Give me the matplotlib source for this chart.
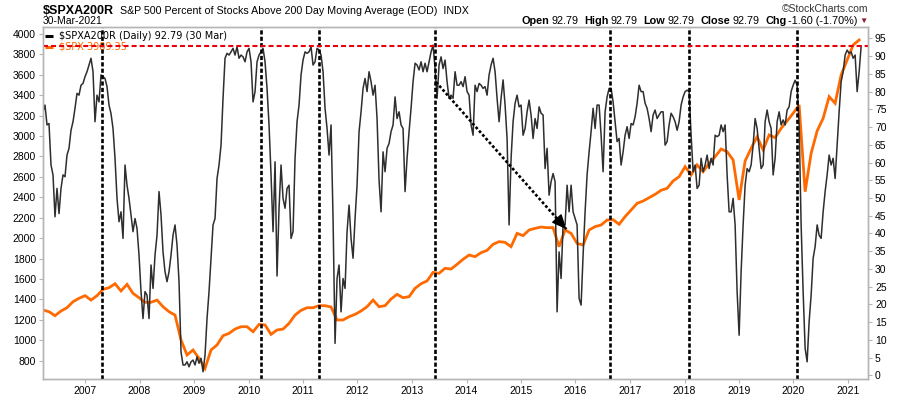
import matplotlib
matplotlib.use('Agg')
import matplotlib.pyplot as plt
import pandas as pd

plt.rcParams['font.family'] = ['Liberation Sans', 'DejaVu Sans']
plt.rcParams['lines.scale_dashes'] = False

# ---------------- data ----------------
start_date = '2006-03-25'
end_date = '2021-03-30'

pct_above_200 = [
    # 2006-03 .. 2009-05
    74.3, 76.2, 70.6, 71.0, 59.3, 56.5, 44.7, 52.7, 45.6, 52.7,
    56.5, 56.0, 62.1, 64.0, 69.1, 71.5, 75.3, 79.5, 79.0, 81.8,
    82.3, 84.2, 85.6, 87.5, 89.4, 85.6, 71.5, 79.0, 77.1, 84.7,
    84.2, 83.7, 81.4, 76.2, 73.8, 69.6, 61.2, 49.9, 43.3, 46.1,
    38.6, 59.3, 53.6, 49.9, 45.2, 40.5, 44.2, 41.4, 33.9, 23.6,
    16.0, 23.6, 22.6, 16.0, 31.1, 24.5, 33.9, 39.5, 51.8, 45.2,
    34.8, 29.2, 26.4, 29.2, 33.9, 39.5, 42.4, 36.7, 26.4, 6.6,
    2.9, 2.9, 3.8, 2.4, 3.8, 4.3, 2.9, 5.2, 3.4, 4.8,
    1.0, 5.7, 16.0, 23.6, 33.0, 42.4,
    # 2009-05 .. 2012-05
    44.2, 55.5, 59.3, 64.9, 78.1, 89.4, 90.8, 90.3, 91.2, 92.2,
    90.3, 92.6, 89.4, 90.3, 89.8, 88.4, 91.2, 92.2, 88.4, 77.1,
    80.0, 88.4, 90.3, 91.2, 92.2, 88.4, 80.9, 70.6, 56.5, 40.5,
    60.2, 28.0, 47.1, 59.3, 49.9, 47.1, 52.7, 53.6, 38.6, 40.5,
    61.2, 71.5, 76.2, 84.7, 88.9, 91.2, 90.8, 91.2, 92.6, 87.5,
    88.4, 92.2, 91.7, 90.3, 85.6, 75.3, 69.6, 62.1, 70.6, 44.2,
    9.0, 27.3, 31.1, 17.9, 27.3, 24.5, 40.5, 48.0, 38.6, 33.0,
    44.2, 53.6, 68.7, 74.3, 80.9, 83.7, 80.0, 85.6, 82.8, 79.0,
    81.8, 72.4,
    # 2012-05 .. 2015-06
    55.0, 46.1, 63.0, 57.4, 64.0, 65.4, 68.7, 70.6, 78.5, 72.4,
    74.3, 70.6, 69.6, 51.8, 61.2, 68.7, 75.3, 82.8, 88.0, 87.5,
    86.1, 88.4, 85.6, 88.0, 85.6, 88.4, 91.2, 93.1, 86.5, 78.1,
    87.5, 89.8, 86.5, 88.9, 82.8, 78.1, 79.0, 78.1, 85.6, 81.8,
    81.8, 82.8, 81.4, 84.2, 80.0, 79.0, 70.6, 67.7, 81.8, 80.0,
    82.3, 81.8, 80.9, 81.4, 79.0, 84.7, 87.5, 89.4, 85.6, 78.1,
    71.5, 78.1, 83.3, 76.2, 66.8, 42.4, 61.2, 71.5, 76.7, 79.0,
    75.7, 76.2, 67.7, 69.6, 74.3, 77.6, 73.4, 66.8, 72.4, 69.6,
    75.7, 73.9, 73.4, 58.3, 64.0,
    # 2015-06 .. 2018-06
    50.8, 54.6, 56.9, 54.6, 17.9, 34.8, 27.3, 42.4, 42.4, 53.6,
    46.1, 53.6, 46.1, 44.2, 42.4, 21.7, 19.8, 33.9, 46.1, 56.5,
    63.0, 68.7, 75.3, 69.6, 76.2, 76.2, 67.7, 57.4, 74.3, 78.5,
    80.9, 80.9, 77.1, 71.5, 65.9, 66.8, 59.3, 63.0, 67.7, 70.1,
    66.8, 71.0, 70.6, 72.9, 76.7, 81.8, 80.0, 80.0, 76.7, 75.3,
    72.4, 68.7, 73.4, 74.8, 72.4, 73.4, 74.3, 74.3, 64.9, 65.9,
    70.6, 73.9, 72.9, 71.5, 69.1, 71.5, 76.2, 78.5, 80.0, 80.4,
    80.0, 67.7, 57.4, 59.3, 52.7, 53.6, 61.2, 57.4, 59.3, 62.1,
    58.3, 61.2, 59.3,
    # 2018-06 .. 2021-03
    67.7, 67.3, 67.7, 70.6, 68.7, 70.6, 56.5, 46.1, 46.1, 49.9,
    42.4, 23.6, 11.3, 29.2, 42.4, 53.6, 58.3, 57.4, 59.3, 64.9,
    72.4, 69.6, 64.0, 58.3, 59.3, 71.5, 74.8, 71.5, 69.6, 56.5,
    61.2, 71.5, 74.3, 70.6, 72.0, 70.6, 74.8, 75.7, 80.0, 81.8,
    83.2, 81.8, 70.6, 42.4, 23.6, 7.6, 3.8, 15.1, 22.6, 33.0,
    36.3, 42.4, 39.5, 38.6, 46.1, 51.8, 56.5, 62.1, 59.3, 61.2,
    55.5, 64.9, 74.3, 82.8, 85.6, 90.3, 91.7, 90.8, 91.2, 89.4,
    90.3, 80.0, 85.6, 92.79,
]

spx_close = [
    1296, 1280, 1241, 1287, 1319, 1378, 1411, 1437, 1394, 1437,
    1499, 1515, 1554, 1483, 1548, 1460, 1417, 1372, 1372, 1394,
    1329, 1280, 1247, 1003, 856, 905, 823, 725, 905,
    954, 1045, 1068, 1110, 1133, 1133, 1084, 1156, 1150, 1058,
    1101, 1110, 1166, 1247, 1293, 1319, 1319, 1339, 1339, 1326,
    1199, 1199, 1231, 1254, 1287, 1329, 1394, 1329,
    1339, 1404, 1450, 1417, 1427, 1509, 1554, 1581, 1665, 1656,
    1705, 1698, 1744, 1793, 1835, 1819, 1858, 1881, 1940, 1966,
    1959, 1917, 2047, 2025, 2080, 2096, 2109, 2103,
    2103, 1917, 2080, 2047, 1949, 1933, 2080, 2113, 2129, 2178,
    2181, 2136, 2211, 2276, 2341, 2364, 2397, 2429, 2469, 2488,
    2560, 2602, 2700, 2619, 2717, 2651, 2733,
    2798, 2873, 2847, 2766, 2374, 2756, 2880, 2994, 2864, 3011,
    2984, 3076, 3148, 3223, 3304, 2455, 2831, 3050, 3174, 3386,
    3321, 3598, 3745, 3892, 3941,
]

cycle_marks = ['2007-04-23', '2010-03-28', '2011-04-16', '2013-06-06',
               '2016-08-18', '2018-01-30', '2020-01-23']
year_labels = [str(y) for y in range(2007, 2022)]
left_ticks = list(range(800, 4001, 200))
right_ticks = list(range(0, 96, 5))
last_value = 92.79
spx_last = '3989.35'
arrow_from = ('2013-06-10', 82.7)
arrow_to = ('2015-11-01', 41.2)

# ---------------- figure ----------------
W, H = 900, 396
fig = plt.figure(figsize=(W / 100, H / 100), dpi=100)
L, R, T, B = 43, 868, 26.7, 379.3
ax = fig.add_axes([L / W, 1 - B / H, (R - L) / W, (B - T) / H])
ax2 = ax.twinx()

dates = pd.date_range(start_date, end_date, periods=len(pct_above_200))
spx_dates = dates[::3]

ax.plot(spx_dates, spx_close, color='#ff6a00', lw=2.0, solid_joinstyle='miter')
ax2.plot(dates, pct_above_200, color='#2e2e2e', lw=1.1)

ax.set_ylim(618, 4071)
ax2.set_ylim(-1.13, 98.3)
ax.set_xlim(pd.Timestamp(start_date), pd.Timestamp('2021-05-15'))

for d in cycle_marks:
    ax2.axvline(pd.Timestamp(d), color='black', lw=1.9, linestyle=(0, (3.0, 1.6)))
ax2.axhline(last_value, color='#e8000b', lw=1.5, linestyle=(0, (3.6, 2.2)))

# dashed trend arrow
a0 = (pd.Timestamp(arrow_from[0]), arrow_from[1])
a1 = (pd.Timestamp(arrow_to[0]), arrow_to[1])
ax2.plot([a0[0], a1[0]], [a0[1], a1[1]], color='black', lw=1.9,
         linestyle=(0, (2.0, 1.6)))
head_start = (a0[0] + (a1[0] - a0[0]) * 0.93, a0[1] + (a1[1] - a0[1]) * 0.93)
ax2.annotate('', xy=a1, xytext=head_start,
             arrowprops=dict(arrowstyle='-|>,head_length=0.9,head_width=0.4',
                             color='black', lw=1.0, shrinkA=0, shrinkB=0))

# axes styling
for a in (ax, ax2):
    for s in a.spines.values():
        s.set_color('#b5b5b5')
        s.set_linewidth(1.0)
ax.set_yticks(left_ticks)
ax.set_yticklabels([str(v) for v in left_ticks])
ax2.set_yticks(right_ticks)
ax2.set_yticklabels([str(v) for v in right_ticks])
ax.tick_params(axis='y', labelsize=7.5, length=3, color='#b5b5b5', pad=2)
ax2.tick_params(axis='y', labelsize=7.5, length=3, color='#b5b5b5', pad=2)
ax.set_xticks([pd.Timestamp(f'{y}-01-01') for y in year_labels])
ax.set_xticklabels(year_labels)
ax.tick_params(axis='x', labelsize=7.5, length=3, color='#b5b5b5', pad=2)

# ---------------- header texts ----------------
def px(x, y):
    return x / W, 1 - y / H

fig.text(*px(43, 10.5), '$SPXA200R', fontsize=9.0, fontweight='bold', va='center', ha='left')
fig.text(*px(120, 10.5), 'S&P 500 Percent of Stocks Above 200 Day Moving Average (EOD)  INDX',
         fontsize=7.7, va='center', ha='left')
fig.text(*px(43, 21.5), '30-Mar-2021', fontsize=7.5, va='center', ha='left')
fig.text(*px(868, 9.5), '\u00a9StockCharts.com', fontsize=7.5, va='center', ha='right', color='#333333')

renderer = fig.canvas.get_renderer()
runs = [('Open', 'bold', 'black', 2), ('92.79', 'normal', 'black', 6),
        ('High', 'bold', 'black', 2), ('92.79', 'normal', 'black', 6),
        ('Low', 'bold', 'black', 2), ('92.79', 'normal', 'black', 6),
        ('Close', 'bold', 'black', 2), ('92.79', 'normal', 'black', 6),
        ('Chg', 'bold', 'black', 2), ('-1.60 (-1.70%)', 'normal', 'black', 2),
        ('\u25bc', 'normal', '#8b1a2f', 0)]
objs = []
total = 0
for s, wgt, col, gap in runs:
    fs = 6 if s == '\u25bc' else 7.8
    t = fig.text(0, 1 - 21.5 / H, s, fontsize=fs, fontweight=wgt, color=col,
                 va='center', ha='left', family=['Liberation Sans', 'DejaVu Sans'])
    w = t.get_window_extent(renderer).width
    objs.append((t, w, gap))
    total += w + gap
x = 868 - total
for t, w, gap in objs:
    t.set_x(x / W)
    x += w + gap

# ---------------- legend ----------------
ax2.plot([0.003, 0.012], [0.975, 0.975], transform=ax2.transAxes, color='black', lw=2.2,
         solid_capstyle='butt')
ax2.text(0.0195, 0.975, '$SPXA200R (Daily) 92.79 (30 Mar)', transform=ax2.transAxes,
         fontsize=7, family='DejaVu Sans', va='center', ha='left', color='black')
ax2.plot([0.003, 0.012], [0.943, 0.943], transform=ax2.transAxes, color='#ff6a00', lw=2.2,
         solid_capstyle='butt', zorder=1)
ax2.text(0.0195, 0.943, '$SPX ' + spx_last, transform=ax2.transAxes,
         fontsize=7, family='DejaVu Sans', va='center', ha='left', color='#ff6a00', zorder=1)

fig.savefig('out.png', dpi=100)
